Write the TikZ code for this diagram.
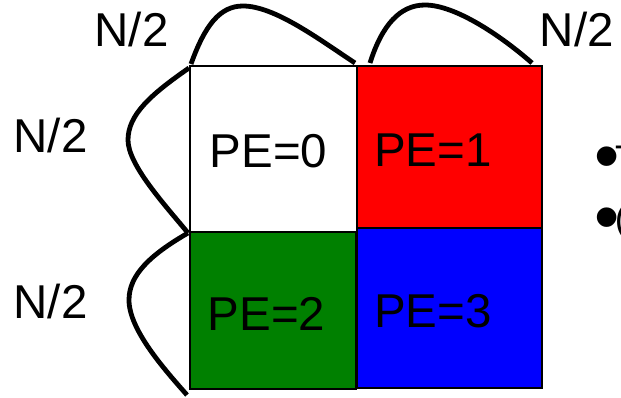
\documentclass[tikz,border=0pt]{standalone}
\usepackage{fontspec}
\setmainfont{Liberation Sans}
\definecolor{pered}{RGB}{255,0,0}
\definecolor{pegreen}{RGB}{0,128,0}
\definecolor{peblue}{RGB}{0,0,255}
\newcommand{\bigbul}{{\fontsize{72}{76}\selectfont\raisebox{-9.5pt}{•}}}
\tikzset{
  lbl/.style={font=\fontsize{47.5}{50}\selectfont, anchor=base west, inner sep=0pt},
  bul/.style={font=\fontsize{37}{40}\selectfont, anchor=base west, inner sep=0pt},
  cell/.style={draw=black, line width=1.5pt},
  hump/.style={draw=black, line width=4.8pt}
}
\begin{document}
\begin{tikzpicture}[x=1pt,y=-1pt]
\useasboundingbox (0,0) rectangle (621,398);
% cells
\path[cell, fill=white]   (190,66) rectangle (357,232);
\path[cell, fill=pered]   (357,66) rectangle (542,228);
\path[cell, fill=pegreen] (190,232) rectangle (356,389);
\path[cell, fill=peblue]  (357,228) rectangle (542,388);
% labels in cells
\node[lbl] (pe0) at (209.5,168) {PE=0};
\node[lbl] (pe1) at (374,167) {PE=1};
\node[lbl] (pe2) at (207.5,330) {PE=2};
\node[lbl] (pe3) at (374,327) {PE=3};
% N/2 labels
\node[lbl] (ntl) at (94.5,47) {N/2};
\node[lbl] (ntr) at (539.5,47) {N/2};
\node[lbl] (nl1) at (13.5,153) {N/2};
\node[lbl] (nl2) at (13.5,318) {N/2};
% humps
\path[hump] (191,64) .. controls (205,25) and (220,6) .. (243,6)
                     .. controls (275,6) and (320,40) .. (355,63);
\path[hump] (370,63) .. controls (382,25) and (400,5) .. (425,5)
                     .. controls (455,5) and (500,35) .. (532,63);
\path[hump] (189,68) .. controls (150,95) and (128,115) .. (128,140)
                     .. controls (128,165) and (165,205) .. (188,233);
\path[hump] (188,233) .. controls (150,255) and (129,275) .. (129,300)
                      .. controls (129,330) and (165,370) .. (187,395);
% bullets (cut off at the right edge)
\node[bul] (b1) at (594.5,171.5) {\bigbul\kern-4.7pt T};
\node[bul] (b2) at (594.5,232) {\bigbul\kern-5pt(};
\end{tikzpicture}
\end{document}
